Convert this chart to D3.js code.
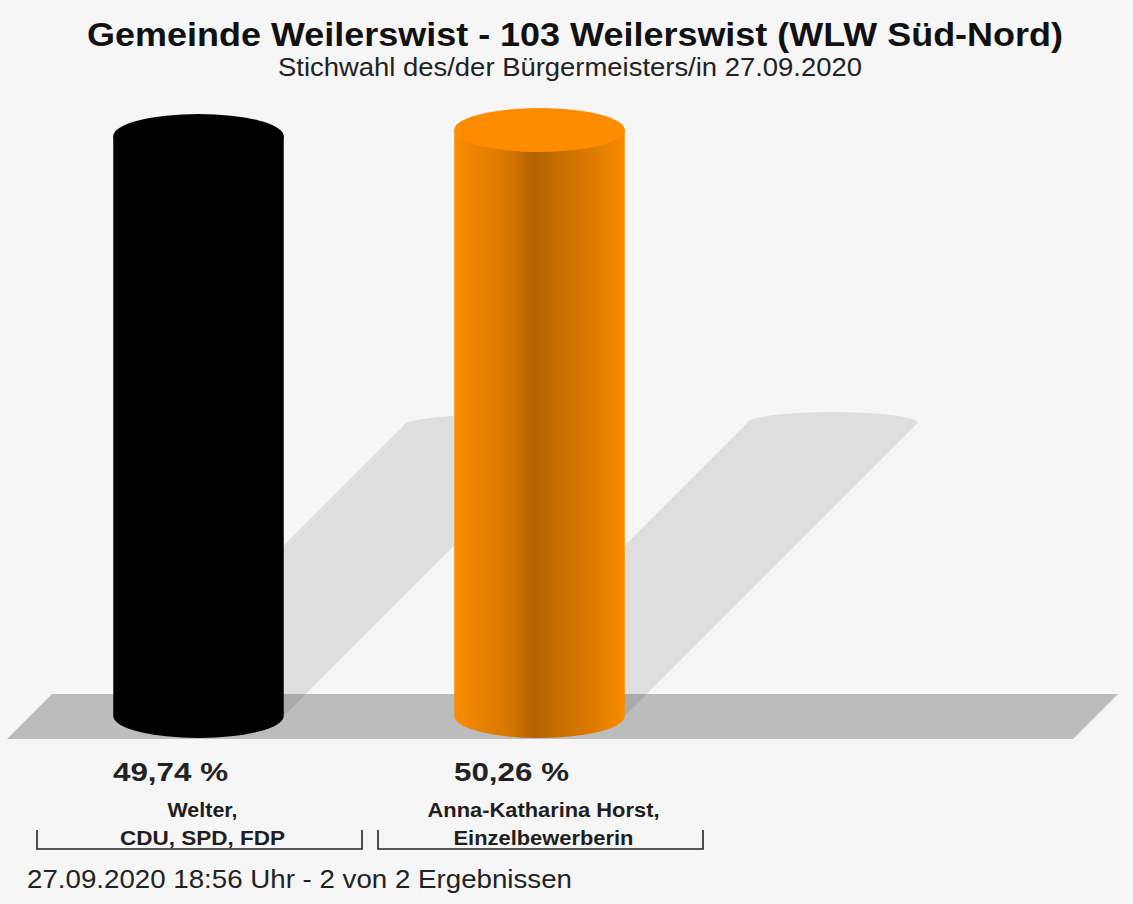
<!DOCTYPE html>
<html>
<head>
<meta charset="utf-8">
<script src="https://cdn.jsdelivr.net/npm/d3@7/dist/d3.min.js"></script>
<style>
  html, body { margin: 0; padding: 0; background: #f6f6f6; }
  svg { display: block; }
  text { font-family: "Liberation Sans", Arial, Helvetica, sans-serif; }
</style>
</head>
<body>
<svg id="chart" width="1133" height="904"></svg>
<script>
// Stichwahl results
const candidates = ["Welter", "Anna-Katharina Horst"];
const labelLines = [["Welter,", "CDU, SPD, FDP"], ["Anna-Katharina Horst,", "Einzelbewerberin"]];
const shares = [49.74, 50.26];
const shareLabels = ["49,74 %", "50,26 %"];
const barColors = ["black", "orange"];

const titleText = "Gemeinde Weilerswist - 103 Weilerswist (WLW Süd-Nord)";
const subtitleText = "Stichwahl des/der Bürgermeisters/in 27.09.2020";
const footerText = "27.09.2020 18:56 Uhr - 2 von 2 Ergebnissen";

const W = 1133, H = 904;
const svg = d3.select("#chart");

svg.append("rect").attr("width", W).attr("height", H).attr("fill", "#f6f6f6");

// scales
const x = d3.scaleBand().domain(candidates).range([28, 710]).paddingInner(0).paddingOuter(0);
const baseY = 716;
const y = d3.scaleLinear().domain([0, d3.max(shares)]).range([baseY, 130]);
const bw = x.bandwidth();
const cylW = bw * 0.5;
const rx = cylW / 2, ry = 22;

// gradients
const defs = svg.append("defs");
const og = defs.append("linearGradient").attr("id", "orangeBody").attr("x1", 0).attr("x2", 1).attr("y1", 0).attr("y2", 0);
[[0, "#fc8d00"], [0.08, "#f08700"], [0.3, "#d97800"], [0.47, "#b46300"], [0.6, "#c56d00"], [0.85, "#e27e00"], [1, "#f88b00"]]
  .forEach(([o, c]) => og.append("stop").attr("offset", o).attr("stop-color", c));

const bodyFill = { black: "#000000", orange: "url(#orangeBody)" };
const topFill = { black: "#000000", orange: "#fd8c00" };

// floor
const floorTop = 694, floorBot = 739;
svg.append("path")
  .attr("d", `M7,${floorBot} L52,${floorTop} L1118,${floorTop} L1073,${floorBot} Z`)
  .attr("fill", "#bcbcbc");

const data = candidates.map((c, i) => ({
  name: c, value: shares[i], label: shareLabels[i], lines: labelLines[i], color: barColors[i]
}));

// cast shadows
svg.append("g").selectAll("path").data(data).join("path")
  .attr("d", d => {
    const cx = x(d.name) + bw / 2;
    const x0 = cx - rx, x1 = cx + rx;
    const h = baseY - y(d.value);
    const s = h / 2;
    return `M${x0},${baseY} L${x0 + s},${baseY - s} A${rx},${ry / 2} 0 0 1 ${x1 + s},${baseY - s} L${x1},${baseY} Z`;
  })
  .attr("fill", "rgba(0,0,0,0.095)");

// cylinders
const cyl = svg.append("g").selectAll("g").data(data).join("g");
cyl.append("path")
  .attr("d", d => {
    const cx = x(d.name) + bw / 2;
    const x0 = cx - rx, x1 = cx + rx;
    const top = y(d.value);
    return `M${x0},${top} L${x0},${baseY} A${rx},${ry} 0 0 0 ${x1},${baseY} L${x1},${top} Z`;
  })
  .attr("fill", d => bodyFill[d.color]);
cyl.append("ellipse")
  .attr("cx", d => x(d.name) + bw / 2)
  .attr("cy", d => y(d.value))
  .attr("rx", rx).attr("ry", ry)
  .attr("fill", d => topFill[d.color]);

// value labels
svg.append("g").selectAll("text").data(data).join("text")
  .attr("x", d => x(d.name) + bw / 2 - 28)
  .attr("y", 781)
  .attr("text-anchor", "middle")
  .attr("font-size", 26).attr("font-weight", "bold").attr("fill", "#222")
  .attr("textLength", 115).attr("lengthAdjust", "spacingAndGlyphs")
  .text(d => d.label);

// category labels
const lineWidths = [[70, 165], [232, 180]];
const cat = svg.append("g").selectAll("g").data(data).join("g");
cat.each(function (d, i) {
  const g = d3.select(this);
  const cx = x(d.name) + bw / 2 + 4;
  d.lines.forEach((t, j) => {
    g.append("text")
      .attr("x", cx).attr("y", 817 + j * 28)
      .attr("text-anchor", "middle")
      .attr("font-size", 20).attr("font-weight", "bold").attr("fill", "#1e1e1e")
      .attr("textLength", lineWidths[i][j]).attr("lengthAdjust", "spacingAndGlyphs")
      .text(t);
  });
  const b0 = x(d.name) + 9, b1 = x(d.name) + bw - 7;
  g.append("path")
    .attr("d", `M${b0},830 L${b0},849 L${b1},849 L${b1},830`)
    .attr("fill", "none").attr("stroke", "#222").attr("stroke-width", 1.6);
});

// titles
svg.append("text").attr("x", 575).attr("y", 46).attr("text-anchor", "middle")
  .attr("font-size", 34).attr("font-weight", "bold").attr("fill", "#111")
  .attr("textLength", 976).attr("lengthAdjust", "spacingAndGlyphs")
  .text(titleText);
svg.append("text").attr("x", 570).attr("y", 76).attr("text-anchor", "middle")
  .attr("font-size", 25).attr("fill", "#222")
  .attr("textLength", 584).attr("lengthAdjust", "spacingAndGlyphs")
  .text(subtitleText);

// footer
svg.append("text").attr("x", 27).attr("y", 888)
  .attr("font-size", 25).attr("fill", "#222")
  .attr("textLength", 545).attr("lengthAdjust", "spacingAndGlyphs")
  .text(footerText);
</script>
</body>
</html>
